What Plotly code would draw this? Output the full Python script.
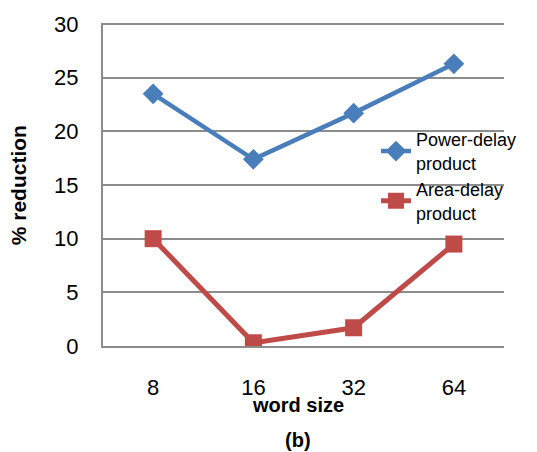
import plotly.graph_objects as go

categories = ["8", "16", "32", "64"]
power_delay = [23.5, 17.4, 21.7, 26.3]
area_delay = [10.0, 0.3, 1.7, 9.5]
y_ticks = [0, 5, 10, 15, 20, 25, 30]

FONT = "Liberation Sans, Arial, sans-serif"
L, R, T, B = 103, 504, 18.5, 346
W, H = 537, 452

fig = go.Figure()
fig.add_trace(go.Scatter(
    x=categories, y=power_delay, mode="lines+markers",
    name="Power-delay<br>product",
    line=dict(color="#4A7EBB", width=4.5),
    marker=dict(symbol="diamond", size=16, color="#4A7EBB"),
))
fig.add_trace(go.Scatter(
    x=categories, y=area_delay, mode="lines+markers",
    name="Area-delay<br>product",
    line=dict(color="#BE4B48", width=5),
    marker=dict(symbol="square", size=17, color="#BE4B48"),
))

def px(x):
    return (x - L) / (R - L)

def py(y):
    return (B - y) / (B - T)

fig.update_layout(
    width=W, height=H,
    margin=dict(l=L, r=W - R, t=T, b=H - B, pad=0),
    paper_bgcolor="white", plot_bgcolor="white",
    font=dict(family=FONT, color="#000000"),
    showlegend=True,
    legend=dict(
        x=px(376), y=py(118), xanchor="left", yanchor="top",
        bgcolor="rgba(0,0,0,0)", font=dict(size=18, family=FONT),
    ),
    xaxis=dict(
        type="category", range=[-0.5, 3.5], showgrid=False,
        showline=True, linecolor="#8C8C8C", linewidth=2,
        zeroline=False, ticks="",
        tickfont=dict(size=22, family=FONT), ticklabelstandoff=21,
    ),
    yaxis=dict(
        range=[0, 30.1], tickvals=y_ticks, showgrid=True,
        gridcolor="#8C8C8C", gridwidth=2, showline=True,
        linecolor="#8C8C8C", linewidth=2, zeroline=False, ticks="",
        tickfont=dict(size=22, family=FONT), ticklabelstandoff=18,
    ),
    annotations=[
        dict(text="<b>word size</b>", x=px(298), y=py(406), xref="paper", yref="paper",
             showarrow=False, font=dict(size=20, family=FONT), xanchor="center", yanchor="middle"),
        dict(text="<b>(b)</b>", x=px(298), y=py(441), xref="paper", yref="paper",
             showarrow=False, font=dict(size=20, family=FONT), xanchor="center", yanchor="middle"),
        dict(text="<b>% reduction</b>", x=px(18), y=py(183), xref="paper", yref="paper",
             showarrow=False, font=dict(size=21, family=FONT), textangle=-90,
             xanchor="center", yanchor="middle"),
    ],
)
fig.write_html("out.html", config={"displayModeBar": False})

with open("out.html", "r", encoding="utf-8") as f:
    html = f.read()
html = html.replace("<head>", "<head><style>html,body{margin:0;padding:0;overflow:hidden;}</style>", 1)
with open("out.html", "w", encoding="utf-8") as f:
    f.write(html)
